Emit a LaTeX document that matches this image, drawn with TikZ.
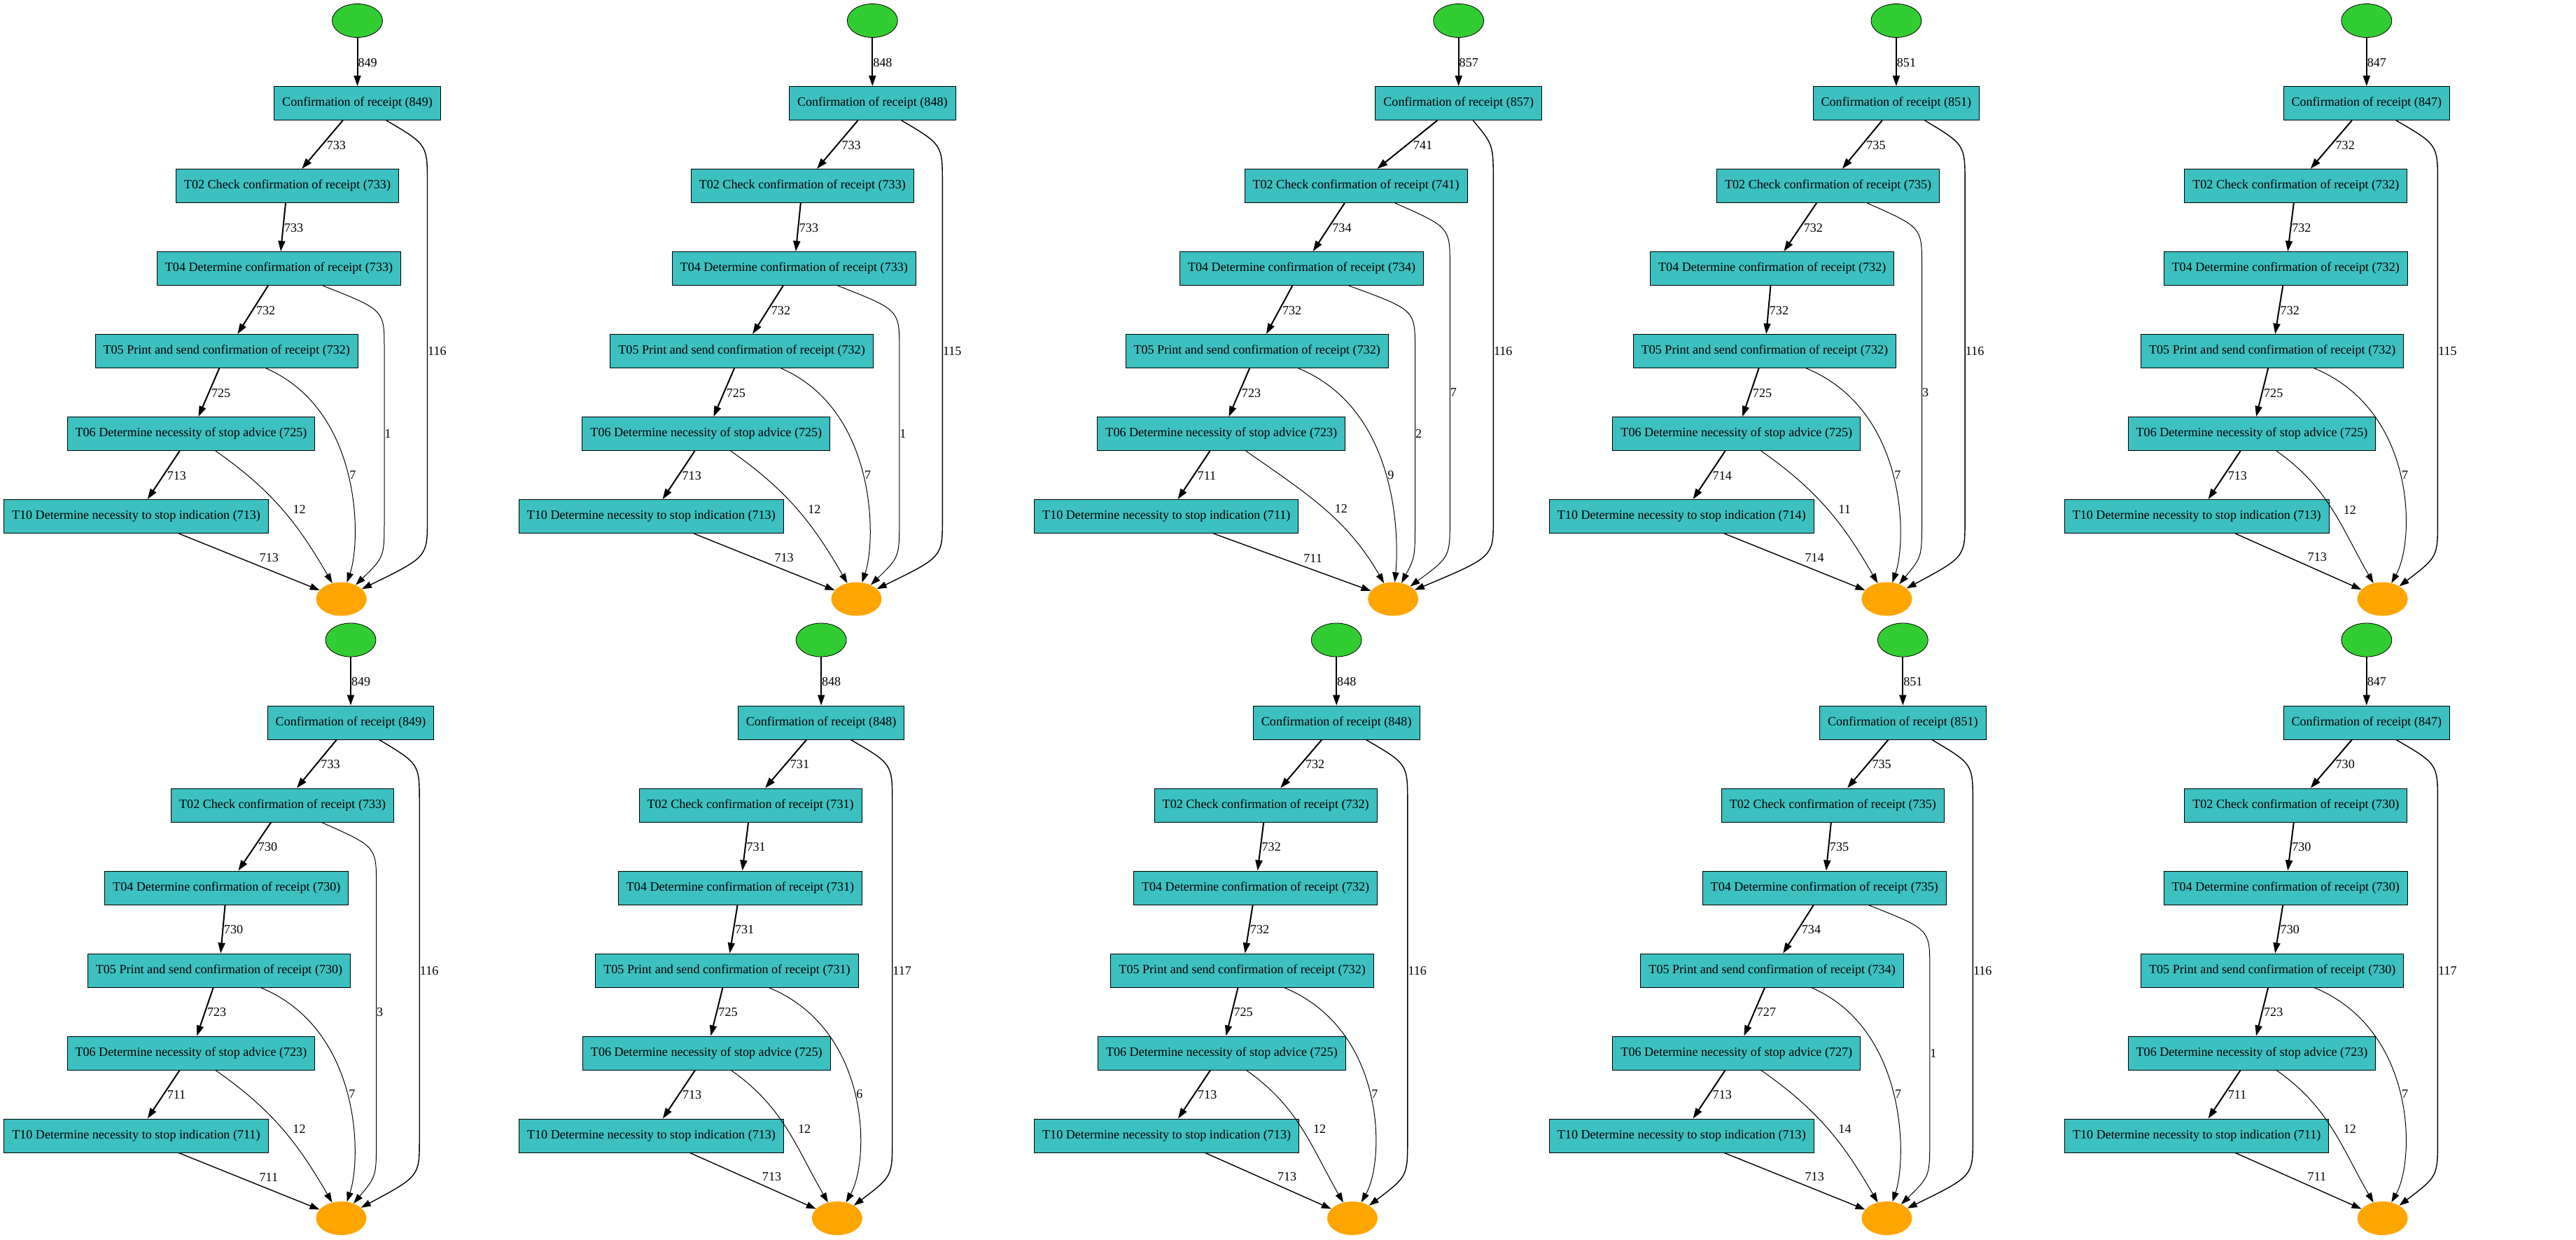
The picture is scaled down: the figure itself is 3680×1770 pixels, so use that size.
\documentclass[tikz,border=0pt]{standalone}
\usepackage{fontspec}
\setmainfont{Liberation Serif}
\usepackage{tikz}
\usetikzlibrary{arrows.meta,shapes.geometric}

\definecolor{actcol}{RGB}{60,192,192}
\definecolor{startcol}{RGB}{50,205,50}
\definecolor{endcol}{RGB}{255,165,0}

\tikzset{
  layA/.code={\def\pxb{-100}\def\pxd{-112}\def\pxe{-186.7}\def\pxf{-237.5}\def\pxj{-316}\def\pxz{-22.8}\def\rtc{100}\def\rtb{0}\def\rtd{38.5}\def\rte{-14}},
  layB/.code={\def\pxb{-146.7}\def\pxd{-224.1}\def\pxe{-288}\def\pxf{-338.9}\def\pxj{-417.4}\def\pxz{-93.5}\def\rtc{49.6}\def\rtb{-12.4}\def\rtd{-62.2}\def\rte{-105.2}},
  layC/.code={\def\pxb{-97.3}\def\pxd{-177.2}\def\pxe{-188}\def\pxf{-228.1}\def\pxj{-306.6}\def\pxz{-13.5}\def\rtc{98.2}\def\rtb{36.6}\def\rtd{0}\def\rte{-4.5}},
  layD/.code={\def\pxb{-101}\def\pxd{-115.6}\def\pxe{-134.6}\def\pxf{-163.8}\def\pxj{-242.6}\def\pxz{22.8}\def\rtc{101.6}\def\rtb{0}\def\rtd{0}\def\rte{50.2}},
}

\begin{document}
\begin{tikzpicture}[x=1pt, y=1pt,
    every node/.style={font=\fontsize{18.1}{21.7}\selectfont},
    act/.style={rectangle, draw, line width=1pt, fill=actcol, minimum height=48pt, inner xsep=11.5pt, inner ysep=0pt},
    srcnode/.style={ellipse, draw, line width=0.8pt, fill=startcol, minimum width=72pt, minimum height=48pt, inner sep=0pt},
    sinknode/.style={ellipse, fill=endcol, minimum width=72pt, minimum height=48pt, inner sep=0pt},
    heavy/.style={-{Triangle[length=15pt,width=10pt]}, line width=2pt},
    medium/.style={-{Triangle[length=14pt,width=9.5pt]}, line width=1.4pt},
    light/.style={-{Triangle[length=14pt,width=9.5pt]}, line width=1pt},
    elbl/.style={pos=0.41, anchor=north west, inner sep=0pt},
    vlbl/.style={midway, anchor=west, inner sep=0pt},
    endlbl/.style={pos=0.57, anchor=south west, inner sep=0pt, yshift=5pt},
    curvlbl/.style={pos=0.5, anchor=west, inner sep=0pt, xshift=#1}]

  \useasboundingbox (0,0) rectangle (3680,-1770);

  \foreach \p/\sx/\sy/\lay/\fs/\fa/\fb/\fc/\fd/\fe/\qf/\qe/\qd/\qb/\qc in {
      1/510.5/-29.5/A/849/733/733/732/725/713/12/7/1/0/116,
      2/1246.3/-29.5/A/848/733/733/732/725/713/12/7/1/0/115,
      3/2083.7/-29.5/B/857/741/734/732/723/711/12/9/2/7/116,
      4/2708.9/-29.5/C/851/735/732/732/725/714/11/7/0/3/116,
      5/3380.8/-29.5/D/847/732/732/732/725/713/12/7/0/0/115,
      6/501/-914/C/849/733/730/730/723/711/12/7/0/3/116,
      7/1173.1/-914/D/848/731/731/731/725/713/12/6/0/0/117,
      8/1909.2/-914/D/848/732/732/732/725/713/12/7/0/0/116,
      9/2718.3/-914/A/851/735/735/734/727/713/14/7/1/0/116,
      10/3380.8/-914/D/847/730/730/730/723/711/12/7/0/0/117} {
    \begin{scope}[shift={(\sx,\sy)}, lay\lay]
      \node[srcnode] (st\p) at (0,0) {};
      \node[act] (cr\p) at (0,-118) {Confirmation of receipt (\fs)};
      \node[act] (tb\p) at (\pxb,-236) {T02 Check confirmation of receipt (\fa)};
      \node[act] (td\p) at (\pxd,-354) {T04 Determine confirmation of receipt (\fb)};
      \node[act] (te\p) at (\pxe,-472) {T05 Print and send confirmation of receipt (\fc)};
      \node[act] (tf\p) at (\pxf,-590) {T06 Determine necessity of stop advice (\fd)};
      \node[act] (tj\p) at (\pxj,-708) {T10 Determine necessity to stop indication (\fe)};
      \node[sinknode] (en\p) at (\pxz,-826) {};

      \draw[heavy] (st\p) -- node[elbl] {\fs} (cr\p);
      \draw[heavy] (cr\p) -- node[elbl] {\fa} (tb\p);
      \draw[heavy] (tb\p) -- node[elbl] {\fb} (td\p);
      \draw[heavy] (td\p) -- node[elbl] {\fc} (te\p);
      \draw[heavy] (te\p) -- node[elbl] {\fd} (tf\p);
      \draw[heavy] (tf\p) -- node[elbl] {\fe} (tj\p);
      \draw[medium] (tj\p) -- node[endlbl] {\fe} (en\p);
      \draw[light] (tf\p) to[out=-35,in=120] node[curvlbl=15pt] {\qf} (en\p);
      \draw[light] (te\p) .. controls (\rte+20,-556) and (\rte+20,-741) .. node[curvlbl=2pt] {\qe} (en\p);
      \ifnum\qd>0
        \draw[light] (td\p) .. controls (\rtd,-413) .. (\rtd,-467.6) -- node[vlbl] {\qd} (\rtd,-713) .. controls (\rtd,-766) .. (en\p);
      \fi
      \ifnum\qb>0
        \draw[light] (tb\p) .. controls (\rtb,-295) .. (\rtb,-349.6) -- node[vlbl] {\qb} (\rtb,-713) .. controls (\rtb,-766) .. (en\p);
      \fi
      \draw[medium] (cr\p) .. controls (\rtc,-177) .. (\rtc,-231.6) -- node[vlbl] {\qc} (\rtc,-713) .. controls (\rtc,-766) .. (en\p);
    \end{scope}
  }
\end{tikzpicture}
\end{document}
